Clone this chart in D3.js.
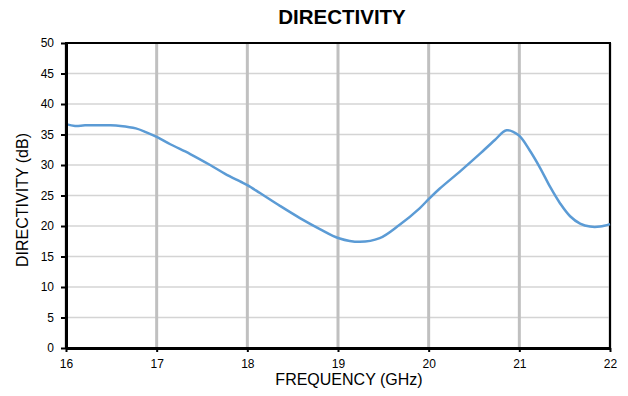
<!DOCTYPE html>
<html>
<head>
<meta charset="utf-8">
<script src="https://cdn.jsdelivr.net/npm/d3@7"></script>
<style>
  body { margin: 0; background: #fff; }
  text { font-family: "Liberation Sans", Arial, sans-serif; fill: #000; }
</style>
</head>
<body>
<script>
// frequency points (GHz)
var freq = [16.00, 16.10, 16.21, 16.375, 16.49, 16.60, 16.77, 16.88, 17.00, 17.15,
            17.37, 17.59, 17.75, 17.92, 18.00, 18.14, 18.36, 18.58, 18.80, 19.01,
            19.24, 19.46, 19.68, 19.90, 20.00, 20.12, 20.35, 20.57, 20.73, 20.86,
            20.99, 21.11, 21.23, 21.34, 21.45, 21.56, 21.67, 21.78, 21.89, 22.00];

// directivity values (dB)
var directivity = [36.7, 36.4, 36.5, 36.5, 36.5, 36.4, 36.0, 35.4, 34.6, 33.4,
                   31.8, 30.0, 28.6, 27.3, 26.7, 25.4, 23.3, 21.3, 19.5, 18.0,
                   17.4, 18.0, 20.2, 22.9, 24.4, 26.1, 29.0, 31.9, 34.1, 35.7,
                   34.9, 32.5, 29.5, 26.4, 23.7, 21.6, 20.4, 19.9, 19.9, 20.3];

var xTicks = [16, 17, 18, 19, 20, 21, 22];
var yTicks = [0, 5, 10, 15, 20, 25, 30, 35, 40, 45, 50];

var width = 628,
    height = 396;

// plot area edges
var plotLeft = 66, plotRight = 610, plotTop = 43, plotBottom = 348;

var svg = d3.select('body')
  .append('svg')
  .attr('width', width)
  .attr('height', height);

var x = d3.scaleLinear().domain([16, 22]).range([plotLeft, plotRight]);
var y = d3.scaleLinear().domain([0, 50]).range([plotBottom, plotTop]);

// horizontal gridlines
svg.append('g')
  .selectAll('line')
  .data(yTicks)
  .enter()
  .append('line')
  .attr('x1', plotLeft).attr('x2', plotRight)
  .attr('y1', function(d) { return y(d); })
  .attr('y2', function(d) { return y(d); })
  .attr('stroke', '#d4d4d4')
  .attr('stroke-width', 1.5);

// vertical gridlines (thicker)
svg.append('g')
  .selectAll('line')
  .data(xTicks)
  .enter()
  .append('line')
  .attr('x1', function(d) { return x(d); })
  .attr('x2', function(d) { return x(d); })
  .attr('y1', plotTop).attr('y2', plotBottom)
  .attr('stroke', '#c0c0c0')
  .attr('stroke-width', 3);

// border of plot area
svg.append('rect')
  .attr('x', plotLeft).attr('y', plotTop)
  .attr('width', plotRight - plotLeft).attr('height', plotBottom - plotTop)
  .attr('fill', 'none')
  .attr('stroke', '#000')
  .attr('stroke-width', 2);

// the curve
var line = d3.line()
  .x(function(d, i) { return x(freq[i]); })
  .y(function(d) { return y(d); })
  .curve(d3.curveCatmullRom.alpha(0.5));

svg.append('path')
  .datum(directivity)
  .attr('d', line)
  .attr('fill', 'none')
  .attr('stroke', '#5b9bd5')
  .attr('stroke-width', 2.5);

// axes
var xAxis = d3.axisBottom(x).tickValues(xTicks).tickFormat(d3.format('d')).tickSize(4).tickSizeOuter(0);
var yAxis = d3.axisLeft(y).tickValues(yTicks).tickFormat(d3.format('d')).tickSize(5).tickSizeOuter(0);

var gx = svg.append('g')
  .attr('transform', 'translate(0,' + plotBottom + ')')
  .call(xAxis);
gx.select('.domain').attr('stroke', '#000').attr('stroke-width', 3);
gx.selectAll('.tick line').attr('stroke', '#000').attr('stroke-width', 2);
gx.selectAll('.tick text')
  .attr('dy', null)
  .attr('y', 20)
  .style('font-size', '12px')
  .style('font-family', '"Liberation Sans", Arial, sans-serif');

var gy = svg.append('g')
  .attr('transform', 'translate(' + plotLeft + ',0)')
  .call(yAxis);
gy.select('.domain').attr('stroke', '#000').attr('stroke-width', 3);
gy.selectAll('.tick line').attr('stroke', '#000').attr('stroke-width', 2);
gy.selectAll('.tick text')
  .attr('x', -12)
  .style('font-size', '12px')
  .style('font-family', '"Liberation Sans", Arial, sans-serif');

// title
svg.append('text')
  .attr('x', 342)
  .attr('y', 24)
  .attr('text-anchor', 'middle')
  .style('font-size', '20.5px')
  .style('font-weight', 'bold')
  .text('DIRECTIVITY');

// axis titles
svg.append('text')
  .attr('x', 349)
  .attr('y', 385)
  .attr('text-anchor', 'middle')
  .style('font-size', '16px')
  .text('FREQUENCY (GHz)');

svg.append('text')
  .attr('transform', 'translate(28,200) rotate(-90)')
  .attr('text-anchor', 'middle')
  .style('font-size', '16px')
  .text('DIRECTIVITY (dB)');
</script>
</body>
</html>
